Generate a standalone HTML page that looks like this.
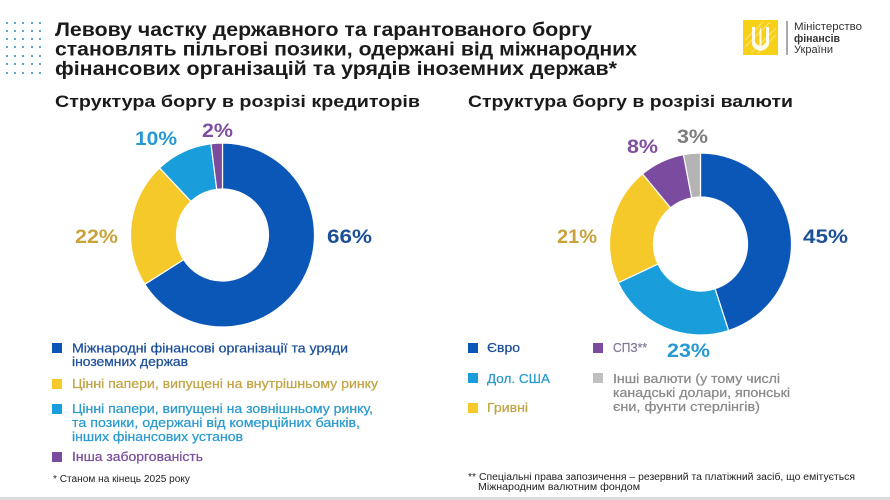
<!DOCTYPE html>
<html>
<head>
<meta charset="utf-8">
<style>
  html, body { margin: 0; padding: 0; background: #ffffff; }
  svg { display: block; }
  text { font-family: "Liberation Sans", "DejaVu Sans", sans-serif; }
</style>
</head>
<body>
<svg width="890" height="500" viewBox="0 0 890 500" xmlns="http://www.w3.org/2000/svg">
  <rect x="0" y="0" width="890" height="500" fill="#ffffff"/>

  <!-- dot pattern -->
  <g fill="#4f9cc4">
    <circle cx="7" cy="23" r="1.1"/><circle cx="15" cy="23" r="1.1"/><circle cx="23" cy="23" r="1.1"/><circle cx="32" cy="23" r="1.1"/><circle cx="40" cy="23" r="1.1"/>
    <circle cx="7" cy="31" r="1.1"/><circle cx="15" cy="31" r="1.1"/><circle cx="23" cy="31" r="1.1"/><circle cx="32" cy="31" r="1.1"/><circle cx="40" cy="31" r="1.1"/>
    <circle cx="7" cy="39" r="1.1"/><circle cx="15" cy="39" r="1.1"/><circle cx="23" cy="39" r="1.1"/><circle cx="32" cy="39" r="1.1"/><circle cx="40" cy="39" r="1.1"/>
    <circle cx="7" cy="47" r="1.1"/><circle cx="15" cy="47" r="1.1"/><circle cx="23" cy="47" r="1.1"/><circle cx="32" cy="47" r="1.1"/><circle cx="40" cy="47" r="1.1"/>
    <circle cx="7" cy="56" r="1.1"/><circle cx="15" cy="56" r="1.1"/><circle cx="23" cy="56" r="1.1"/><circle cx="32" cy="56" r="1.1"/><circle cx="40" cy="56" r="1.1"/>
    <circle cx="7" cy="64" r="1.1"/><circle cx="15" cy="64" r="1.1"/><circle cx="23" cy="64" r="1.1"/><circle cx="32" cy="64" r="1.1"/><circle cx="40" cy="64" r="1.1"/>
    <circle cx="7" cy="73" r="1.1"/><circle cx="15" cy="73" r="1.1"/><circle cx="23" cy="73" r="1.1"/><circle cx="32" cy="73" r="1.1"/><circle cx="40" cy="73" r="1.1"/>
  </g>

  <!-- title -->
  <g font-size="19" font-weight="bold" fill="#1a1a1a">
    <text x="55" y="36" textLength="537" lengthAdjust="spacingAndGlyphs">Левову частку державного та гарантованого боргу</text>
    <text x="55" y="55.5" textLength="582" lengthAdjust="spacingAndGlyphs">становлять пільгові позики, одержані від міжнародних</text>
    <text x="55" y="75" textLength="562" lengthAdjust="spacingAndGlyphs">фінансових організацій та урядів іноземних держав*</text>
  </g>

  <!-- logo -->
  <rect x="743" y="20" width="35" height="35" fill="#f7d117"/>
  <g stroke="#fbe27a" stroke-width="1.2">
    <line x1="745" y1="40" x2="763" y2="22"/>
    <line x1="745" y1="47" x2="770" y2="22"/>
    <line x1="751" y1="53" x2="776" y2="28"/>
    <line x1="758" y1="53" x2="776" y2="35"/>
  </g>
  <path d="M752 27 L752 43 Q752 49 760.5 51 Q769 49 769 43 L769 27 L766 27 L766 42 Q764 45 761.5 46 L761.5 31 L760.5 27 L759.5 31 L759.5 46 Q757 45 755 42 L755 27 Z" fill="#ffffff" opacity="0.9"/>
  <line x1="787" y1="21" x2="787" y2="55" stroke="#555555" stroke-width="1"/>
  <g fill="#333333" font-size="11">
    <text x="794" y="30" textLength="68" lengthAdjust="spacingAndGlyphs">Міністерство</text>
    <text x="794" y="42" font-weight="bold" textLength="46" lengthAdjust="spacingAndGlyphs">фінансів</text>
    <text x="794" y="53" textLength="39" lengthAdjust="spacingAndGlyphs">України</text>
  </g>

  <!-- subtitles -->
  <g font-size="17" font-weight="bold" fill="#1a1a1a">
    <text x="55" y="107" textLength="365" lengthAdjust="spacingAndGlyphs">Структура боргу в розрізі кредиторів</text>
    <text x="468" y="107" textLength="325" lengthAdjust="spacingAndGlyphs">Структура боргу в розрізі валюти</text>
  </g>

  <!-- donut 1 -->
  <g stroke="#ffffff" stroke-width="1.2" stroke-linejoin="round">
    <path d="M222.5,143 A92,92 0 1 1 144.82,284.29 L183.66,259.65 A46,46 0 1 0 222.5,189 Z" fill="#0b57b7"/>
    <path d="M144.82,284.29 A92,92 0 0 1 159.53,167.93 L191.01,201.47 A46,46 0 0 0 183.66,259.65 Z" fill="#f6c92a"/>
    <path d="M159.53,167.93 A92,92 0 0 1 210.97,143.73 L216.74,189.36 A46,46 0 0 0 191.01,201.47 Z" fill="#1a9edb"/>
    <path d="M210.97,143.73 A92,92 0 0 1 222.5,143 L222.5,189 A46,46 0 0 0 216.74,189.36 Z" fill="#7a4b9e"/>
  </g>

  <!-- donut 2 -->
  <g stroke="#ffffff" stroke-width="1.2" stroke-linejoin="round">
    <path d="M700.5,153 A91,91 0 0 1 728.62,330.55 L715.02,288.70 A47,47 0 0 0 700.5,197 Z" fill="#0b57b7"/>
    <path d="M728.62,330.55 A91,91 0 0 1 618.16,282.75 L657.97,264.01 A47,47 0 0 0 715.02,288.70 Z" fill="#1a9edb"/>
    <path d="M618.16,282.75 A91,91 0 0 1 642.50,173.88 L670.54,207.79 A47,47 0 0 0 657.97,264.01 Z" fill="#f6c92a"/>
    <path d="M642.50,173.88 A91,91 0 0 1 683.45,154.61 L691.69,197.83 A47,47 0 0 0 670.54,207.79 Z" fill="#7a4b9e"/>
    <path d="M683.45,154.61 A91,91 0 0 1 700.5,153 L700.5,197 A47,47 0 0 0 691.69,197.83 Z" fill="#b4b4b4"/>
  </g>

  <!-- percentage labels -->
  <g font-size="19" font-weight="bold">
    <text x="135" y="145" fill="#2599d0" textLength="42" lengthAdjust="spacingAndGlyphs">10%</text>
    <text x="202" y="137" fill="#7f4f9f" textLength="31" lengthAdjust="spacingAndGlyphs">2%</text>
    <text x="327" y="243" fill="#1b4f98" textLength="45" lengthAdjust="spacingAndGlyphs">66%</text>
    <text x="75" y="243" fill="#c8a23c" textLength="43" lengthAdjust="spacingAndGlyphs">22%</text>
    <text x="677" y="143" fill="#7c7c7c" textLength="31" lengthAdjust="spacingAndGlyphs">3%</text>
    <text x="627" y="153" fill="#7f4f9f" textLength="31" lengthAdjust="spacingAndGlyphs">8%</text>
    <text x="557" y="243" fill="#c8a23c" textLength="40" lengthAdjust="spacingAndGlyphs">21%</text>
    <text x="803" y="243" fill="#1b4f98" textLength="45" lengthAdjust="spacingAndGlyphs">45%</text>
    <text x="667" y="357" fill="#2599d0" textLength="43" lengthAdjust="spacingAndGlyphs">23%</text>
  </g>

  <!-- legend 1 -->
  <rect x="52" y="343" width="10" height="10" fill="#0b57b7"/>
  <rect x="52" y="379" width="10" height="10" fill="#f6c92a"/>
  <rect x="52" y="404" width="10" height="10" fill="#1a9edb"/>
  <rect x="52" y="452" width="10" height="10" fill="#7a4b9e"/>
  <g font-size="13" stroke-width="0.25">
    <text x="72" y="352.5" fill="#1d4f98" stroke="#1d4f98" textLength="276" lengthAdjust="spacingAndGlyphs">Міжнародні фінансові організації та уряди</text>
    <text x="72" y="366" fill="#1d4f98" stroke="#1d4f98" textLength="116" lengthAdjust="spacingAndGlyphs">іноземних держав</text>
    <text x="72" y="388" fill="#c0a445" stroke="#c0a445" textLength="306" lengthAdjust="spacingAndGlyphs">Цінні папери, випущені на внутрішньому ринку</text>
    <text x="72" y="413" fill="#2b9bcf" stroke="#2b9bcf" textLength="301" lengthAdjust="spacingAndGlyphs">Цінні папери, випущені на зовнішньому ринку,</text>
    <text x="72" y="427" fill="#2b9bcf" stroke="#2b9bcf" textLength="288" lengthAdjust="spacingAndGlyphs">та позики, одержані від комерційних банків,</text>
    <text x="72" y="441" fill="#2b9bcf" stroke="#2b9bcf" textLength="171" lengthAdjust="spacingAndGlyphs">інших фінансових установ</text>
    <text x="72" y="461" fill="#7a4f9e" stroke="#7a4f9e" textLength="131" lengthAdjust="spacingAndGlyphs">Інша заборгованість</text>
  </g>
  <text x="53" y="482" font-size="10" fill="#222222" textLength="137" lengthAdjust="spacingAndGlyphs">* Станом на кінець 2025 року</text>

  <!-- legend 2 -->
  <rect x="468" y="343" width="10" height="10" fill="#0b57b7"/>
  <rect x="468" y="373" width="10" height="10" fill="#1a9edb"/>
  <rect x="468" y="403" width="10" height="10" fill="#f6c92a"/>
  <rect x="593" y="343" width="10" height="10" fill="#7a4b9e"/>
  <rect x="593" y="373" width="10" height="10" fill="#c0c0c0"/>
  <g font-size="13" stroke-width="0.25">
    <text x="487" y="352" fill="#1d4f98" stroke="#1d4f98" textLength="33" lengthAdjust="spacingAndGlyphs">Євро</text>
    <text x="487" y="383" fill="#2b9bcf" stroke="#2b9bcf" textLength="63" lengthAdjust="spacingAndGlyphs">Дол. США</text>
    <text x="487" y="412" fill="#c0a445" stroke="#c0a445" textLength="41" lengthAdjust="spacingAndGlyphs">Гривні</text>
    <text x="613" y="352" fill="#857a95" stroke="#857a95" textLength="34" lengthAdjust="spacingAndGlyphs">СПЗ**</text>
    <text x="613" y="383" fill="#8a8a8a" stroke="#8a8a8a" textLength="167" lengthAdjust="spacingAndGlyphs">Інші валюти (у тому числі</text>
    <text x="613" y="397" fill="#8a8a8a" stroke="#8a8a8a" textLength="177" lengthAdjust="spacingAndGlyphs">канадські долари, японські</text>
    <text x="613" y="411" fill="#8a8a8a" stroke="#8a8a8a" textLength="147" lengthAdjust="spacingAndGlyphs">єни, фунти стерлінгів)</text>
  </g>
  <g font-size="10" fill="#222222">
    <text x="468" y="480" textLength="387" lengthAdjust="spacingAndGlyphs">** Спеціальні права запозичення – резервний та платіжний засіб, що емітується</text>
    <text x="478" y="490" textLength="162" lengthAdjust="spacingAndGlyphs">Міжнародним валютним фондом</text>
  </g>

  <!-- bottom line -->
  <rect x="0" y="497" width="890" height="3" fill="#dcdcdc"/>
</svg>
</body>
</html>
